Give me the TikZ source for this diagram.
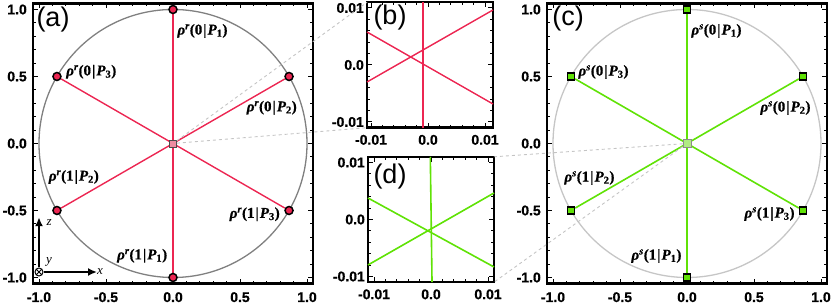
\documentclass[tikz,border=0pt]{standalone}
\usepackage{fontspec}
\setmainfont{Liberation Serif}[BoldFeatures={FakeBold=0.6}, BoldItalicFeatures={FakeBold=0.6}]
\setsansfont{Liberation Sans}
\newfontfamily\tickfont{Liberation Sans Bold}[FakeBold=0.8]
\usepackage{tikz}
\usetikzlibrary{arrows.meta, backgrounds}

\definecolor{linered}{RGB}{236,38,82}
\definecolor{linegreen}{RGB}{96,226,6}
\definecolor{pinkfill}{RGB}{238,140,160}
\definecolor{palegreen}{RGB}{176,236,130}
\definecolor{blochgray}{RGB}{128,128,128}
\definecolor{blochlight}{RGB}{198,198,198}
\definecolor{dashgray}{RGB}{196,196,196}

% state label rho^x(k|P_n)
\newcommand{\rhostate}[3]{\bfseries\itshape ρ\textsuperscript{#1}\upshape(#2\kern1pt|\kern1pt\itshape P\textsubscript{\upshape#3}\upshape)}

% frame, ticks and tick labels of a Bloch-circle panel
\newcommand{\circleaxes}[1]{%
  \draw[frame] (-1.045,-1.045) rectangle (1.045,1.045);
  \foreach \i in {-10,...,10}{
    \pgfmathsetmacro{\t}{\i/10}
    \pgfmathsetmacro{\len}{ifthenelse(mod(\i,5)==0,5,3)}
    \draw[tick] (\t,-1.045) -- ++(0,\len pt);
    \draw[tick] (\t,1.045) -- ++(0,-\len pt);
    \draw[tick] (-1.045,\t) -- ++(\len pt,0);
    \draw[tick] (1.045,\t) -- ++(-\len pt,0);
  }
  \foreach \t/\s [count=\k] in {-1/-1.0,-0.5/-0.5,0/0.0,0.5/0.5,1/1.0}{
    \node[ticklbl, anchor=north, yshift=-7.5pt] (#1x\k) at (\t,-1.045) {\s};
    \node[ticklbl, anchor=east, xshift=-5pt] (#1y\k) at (-1.045,\t) {\s};
  }
}

% frame and ticks of a zoom panel, x from #1 to #2 (units of 0.001)
\newcommand{\zoomaxes}[3]{%
  \draw[frame] (#1,-11) rectangle (#2,11);
  \foreach \i in {-5,...,5}{
    \pgfmathsetmacro{\t}{2*\i}
    \pgfmathsetmacro{\len}{ifthenelse(mod(\i,5)==0,5,3)}
    \draw[tick] (\t,-11) -- ++(0,\len pt);
    \draw[tick] (\t,11) -- ++(0,-\len pt);
    \draw[tick] (#1,\t) -- ++(\len pt,0);
    \draw[tick] (#2,\t) -- ++(-\len pt,0);
  }
  \foreach \t/\s [count=\k] in {-10/-0.01,0/0.0,10/0.01}{
    \node[ticklbl, anchor=north, yshift=-6pt] (#3x\k) at (\t,-11) {\s};
    \node[ticklbl, anchor=east, xshift=-2pt] (#3y\k) at (#1,\t) {\s};
  }
}

\begin{document}
\begin{tikzpicture}[x=1pt, y=1pt,
    frame/.style={line width=2.4pt},
    tick/.style={line width=1pt},
    ticklbl/.style={font=\tickfont\fontsize{14}{14}\selectfont, inner sep=1pt},
    panellbl/.style={font=\sffamily\fontsize{27}{27}\selectfont, inner sep=0pt},
    statelbl/.style={font=\fontsize{15}{15}\selectfont, inner sep=0pt},
    axislbl/.style={font=\itshape\fontsize{13}{13}\selectfont, inner sep=0pt},
    redline/.style={draw=linered, line width=1.4pt},
    greenline/.style={draw=linegreen, line width=1.6pt},
    dot/.style={circle, draw=black, line width=1.5pt, fill=linered, inner sep=0pt, minimum size=8pt},
    sqdot/.style={rectangle, draw=black, line width=1.5pt, fill=linegreen, inner sep=0pt, minimum size=7pt},
    censq/.style={rectangle, draw=black!70, line width=0.9pt, inner sep=0pt, minimum size=7pt},
    otimes/.style={circle, draw, line width=1pt, inner sep=0pt, minimum size=8pt,
      path picture={\draw[line width=1pt] (path picture bounding box.south west) -- (path picture bounding box.north east)
        (path picture bounding box.north west) -- (path picture bounding box.south east);}},
    bloch/.style={line width=1.3pt},
    zoomline/.style={draw=dashgray, dashed, line width=0.9pt},
    axarrow/.style={-{Latex[length=9pt, width=8pt]}, line width=2.4pt}
]
\useasboundingbox (0,0) rectangle (831,304);

% (a) rho^r on the circle
\begin{scope}[shift={(173,160.5)}, x=134pt, y=134pt]
  \circleaxes{a}
  \draw[bloch, blochgray] (0,0) circle[radius=1];
  \node[censq, fill=pinkfill] (acen) at (0,0) {};
  \node[dot] (a01) at (0,1) {};
  \node[dot] (a11) at (0,-1) {};
  \node[dot] (a02) at (0.866,0.5) {};
  \node[dot] (a12) at (-0.866,-0.5) {};
  \node[dot] (a03) at (-0.866,0.5) {};
  \node[dot] (a13) at (0.866,-0.5) {};
  \begin{scope}[on background layer]
    \draw[redline] (a01) -- (a11);
    \draw[redline] (a02) -- (a12);
    \draw[redline] (a03) -- (a13);
  \end{scope}
  \node[statelbl] (la01) at (0.22,0.84) {\rhostate{r}{0}{1}};
  \node[statelbl] (la03) at (-0.61,0.535) {\rhostate{r}{0}{3}};
  \node[statelbl] (la02) at (0.737,0.267) {\rhostate{r}{0}{2}};
  \node[statelbl] (la12) at (-0.74,-0.25) {\rhostate{r}{1}{2}};
  \node[statelbl] (la13) at (0.61,-0.528) {\rhostate{r}{1}{3}};
  \node[statelbl] (la11) at (-0.23,-0.838) {\rhostate{r}{1}{1}};
  % lab frame
  \node[otimes] (axo) at (-1,-0.959) {};
  \coordinate (axz) at (-1,-0.55);
  \coordinate (axx) at (-0.567,-0.959);
  \draw[axarrow] (axo) -- (axz);
  \draw[axarrow] (axo) -- (axx);
  \node[axislbl] (lz) at (-0.925,-0.593) {z};
  \node[axislbl] (ly) at (-0.925,-0.884) {y};
  \node[axislbl] (lx) at (-0.545,-0.959) {x};
\end{scope}

% (b) zoom of the red crossing
\begin{scope}[shift={(428,239)}, x=5.7pt, y=5.7pt]
  \zoomaxes{-10.7}{11.4}{b}
  \draw[redline] (-0.88,-11) -- (-0.88,11);
  \draw[redline] (-10.7,5.79) -- (11.4,-6.84);
  \draw[redline] (-10.7,-2.98) -- (11.4,9.65);
  \coordinate (bnw) at (-10.7,11);
  \coordinate (bsw) at (-10.7,-11);
\end{scope}

% (d) zoom of the green crossing
\begin{scope}[shift={(431,84.5)}, x=5.7pt, y=5.7pt]
  \zoomaxes{-11.05}{11.05}{d}
  \draw[greenline] (-0.12,11) -- (0.18,-11);
  \draw[greenline] (-11.05,3.77) -- (11.05,-8.33);
  \draw[greenline] (-11.05,-7.98) -- (11.05,4.65);
  \coordinate (dne) at (11.05,11);
  \coordinate (dse) at (11.05,-11);
\end{scope}

% (c) rho^s on the circle
\begin{scope}[shift={(687,160.5)}, x=134pt, y=134pt]
  \circleaxes{c}
  \draw[bloch, blochlight] (0,0) circle[radius=1];
  \node[censq, fill=palegreen, draw=black!45, minimum size=8pt] (ccen) at (0,0) {};
  \node[sqdot] (c01) at (0,1) {};
  \node[sqdot] (c11) at (0,-1) {};
  \node[sqdot] (c02) at (0.866,0.5) {};
  \node[sqdot] (c12) at (-0.866,-0.5) {};
  \node[sqdot] (c03) at (-0.866,0.5) {};
  \node[sqdot] (c13) at (0.866,-0.5) {};
  \begin{scope}[on background layer]
    \draw[greenline] (c01) -- (c11);
    \draw[greenline] (c02) -- (c12);
    \draw[greenline] (c03) -- (c13);
  \end{scope}
  \node[statelbl] (lc01) at (0.22,0.84) {\rhostate{s}{0}{1}};
  \node[statelbl] (lc03) at (-0.623,0.534) {\rhostate{s}{0}{3}};
  \node[statelbl] (lc02) at (0.735,0.265) {\rhostate{s}{0}{2}};
  \node[statelbl] (lc12) at (-0.728,-0.257) {\rhostate{s}{1}{2}};
  \node[statelbl] (lc13) at (0.616,-0.526) {\rhostate{s}{1}{3}};
  \node[statelbl] (lc11) at (-0.228,-0.84) {\rhostate{s}{1}{1}};
\end{scope}

% zoom guides
\draw[zoomline] (acen) -- (bnw);
\draw[zoomline] (acen) -- (bsw);
\draw[zoomline] (ccen) -- (dne);
\draw[zoomline] (ccen) -- (dse);

% panel letters
\node[panellbl] (pa) at (53,284) {(a)};
\node[panellbl] (pb) at (390,286) {(b)};
\node[panellbl] (pc) at (568,285) {(c)};
\node[panellbl] (pd) at (390,127) {(d)};
\end{tikzpicture}
\end{document}
